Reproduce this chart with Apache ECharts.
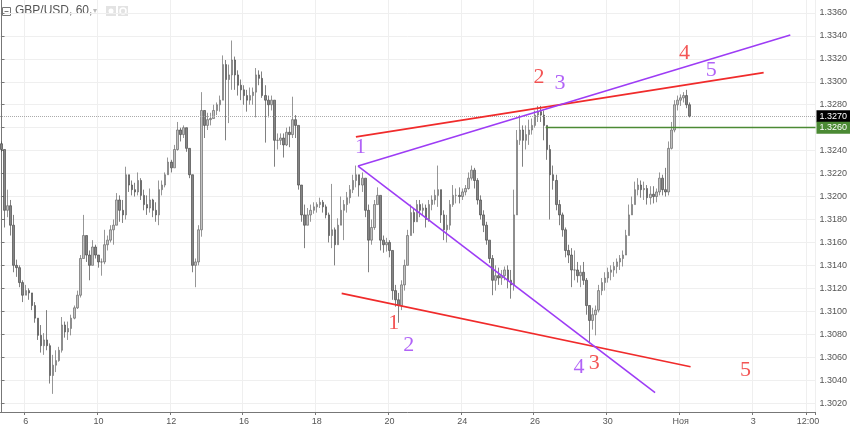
<!DOCTYPE html>
<html><head><meta charset="utf-8">
<script src="https://cdn.jsdelivr.net/npm/echarts@6/dist/echarts.min.js"></script>
<style>html,body{margin:0;padding:0;background:#fff;} #c{width:850px;height:430px;}</style>
</head><body><div id="c"></div>
<script>
// GBP/USD, 60 (2-hour bars)
const close = [
1.3241,1.3188,1.3192,1.3175,1.3140,1.3138,1.3125,1.3114,1.3118,1.3116,1.3105,1.3094,
1.3079,1.3070,1.3075,1.3070,1.3044,1.3053,1.3057,1.3066,1.3088,1.3082,1.3085,1.3094,
1.3103,1.3114,1.3146,1.3166,1.3149,1.3140,1.3156,1.3149,1.3143,1.3143,1.3158,1.3162,
1.3171,1.3175,1.3197,1.3188,1.3184,1.3219,1.3210,1.3206,1.3204,1.3214,1.3201,1.3193,
1.3190,1.3197,1.3188,1.3184,1.3206,1.3210,1.3219,1.3230,1.3225,1.3241,1.3258,1.3254,
1.3260,1.3242,1.3219,1.3140,1.3143,1.3171,1.3275,1.3262,1.3267,1.3268,1.3275,1.3280,
1.3284,1.3315,1.3302,1.3306,1.3319,1.3306,1.3297,1.3293,1.3288,1.3284,1.3288,1.3291,
1.3306,1.3303,1.3288,1.3284,1.3280,1.3284,1.3249,1.3249,1.3251,1.3245,1.3256,1.3254,
1.3267,1.3262,1.3210,1.3184,1.3175,1.3184,1.3188,1.3191,1.3193,1.3195,1.3191,1.3184,
1.3166,1.3171,1.3158,1.3175,1.3188,1.3193,1.3199,1.3206,1.3214,1.3219,1.3210,1.3216,
1.3188,1.3162,1.3173,1.3193,1.3201,1.3162,1.3158,1.3160,1.3153,1.3118,1.3110,1.3105,
1.3123,1.3140,1.3166,1.3186,1.3178,1.3193,1.3188,1.3190,1.3180,1.3193,1.3197,1.3201,
1.3206,1.3184,1.3171,1.3175,1.3193,1.3201,1.3201,1.3200,1.3204,1.3207,1.3216,1.3223,
1.3214,1.3197,1.3184,1.3175,1.3162,1.3146,1.3127,1.3131,1.3129,1.3131,1.3136,1.3127,
1.3123,1.3184,1.3249,1.3258,1.3249,1.3254,1.3258,1.3262,1.3271,1.3274,1.3271,1.3262,
1.3241,1.3219,1.3214,1.3193,1.3184,1.3171,1.3153,1.3149,1.3136,1.3136,1.3131,1.3134,
1.3127,1.3105,1.3092,1.3097,1.3101,1.3118,1.3125,1.3129,1.3134,1.3136,1.3139,1.3143,
1.3146,1.3149,1.3166,1.3184,1.3193,1.3206,1.3210,1.3206,1.3207,1.3199,1.3202,1.3200,
1.3204,1.3216,1.3206,1.3204,1.3242,1.3258,1.3280,1.3284,1.3286,1.3288,1.3280,1.3270];
const high = [
1.3248,1.3240,1.3206,1.3197,1.3184,1.3145,1.3140,1.3127,1.3123,1.3120,1.3116,1.3108,
1.3094,1.3088,1.3081,1.3101,1.3072,1.3062,1.3066,1.3069,1.3095,1.3091,1.3091,1.3097,
1.3105,1.3118,1.3149,1.3184,1.3166,1.3153,1.3162,1.3158,1.3149,1.3146,1.3171,1.3166,
1.3175,1.3180,1.3203,1.3201,1.3197,1.3226,1.3219,1.3214,1.3212,1.3221,1.3216,1.3206,
1.3201,1.3207,1.3198,1.3195,1.3214,1.3214,1.3221,1.3234,1.3232,1.3245,1.3265,1.3260,
1.3262,1.3260,1.3242,1.3219,1.3146,1.3175,1.3291,1.3275,1.3273,1.3273,1.3280,1.3282,
1.3288,1.3323,1.3319,1.3315,1.3336,1.3322,1.3310,1.3302,1.3297,1.3293,1.3295,1.3295,
1.3312,1.3310,1.3309,1.3297,1.3288,1.3288,1.3284,1.3255,1.3255,1.3255,1.3260,1.3261,
1.3287,1.3271,1.3262,1.3210,1.3193,1.3190,1.3193,1.3195,1.3195,1.3199,1.3197,1.3193,
1.3186,1.3211,1.3173,1.3181,1.3200,1.3197,1.3204,1.3210,1.3219,1.3227,1.3219,1.3221,
1.3216,1.3193,1.3180,1.3197,1.3208,1.3201,1.3166,1.3164,1.3162,1.3153,1.3123,1.3116,
1.3127,1.3145,1.3171,1.3193,1.3190,1.3197,1.3197,1.3194,1.3193,1.3197,1.3201,1.3206,
1.3227,1.3206,1.3188,1.3184,1.3197,1.3210,1.3207,1.3208,1.3207,1.3210,1.3221,1.3227,
1.3225,1.3216,1.3201,1.3188,1.3178,1.3162,1.3149,1.3140,1.3138,1.3136,1.3139,1.3140,
1.3136,1.3206,1.3258,1.3271,1.3262,1.3262,1.3267,1.3268,1.3275,1.3279,1.3279,1.3275,
1.3262,1.3245,1.3227,1.3219,1.3197,1.3186,1.3173,1.3158,1.3155,1.3153,1.3143,1.3140,
1.3143,1.3129,1.3105,1.3103,1.3105,1.3123,1.3129,1.3134,1.3138,1.3140,1.3143,1.3146,
1.3149,1.3153,1.3171,1.3193,1.3200,1.3213,1.3216,1.3214,1.3213,1.3210,1.3209,1.3209,
1.3207,1.3221,1.3219,1.3225,1.3248,1.3265,1.3284,1.3288,1.3289,1.3291,1.3293,1.3282];
const low = [
1.3239,1.3173,1.3182,1.3166,1.3134,1.3130,1.3121,1.3108,1.3114,1.3110,1.3101,1.3090,
1.3075,1.3064,1.3062,1.3066,1.3037,1.3028,1.3047,1.3056,1.3064,1.3077,1.3075,1.3079,
1.3093,1.3102,1.3112,1.3153,1.3143,1.3127,1.3140,1.3146,1.3138,1.3131,1.3141,1.3153,
1.3160,1.3158,1.3175,1.3178,1.3177,1.3180,1.3204,1.3201,1.3200,1.3201,1.3197,1.3188,
1.3184,1.3186,1.3182,1.3178,1.3175,1.3201,1.3208,1.3219,1.3221,1.3225,1.3240,1.3248,
1.3251,1.3239,1.3216,1.3134,1.3121,1.3140,1.3165,1.3251,1.3258,1.3262,1.3268,1.3271,
1.3274,1.3284,1.3249,1.3264,1.3293,1.3293,1.3288,1.3284,1.3280,1.3274,1.3280,1.3280,
1.3269,1.3297,1.3286,1.3247,1.3269,1.3275,1.3226,1.3241,1.3245,1.3234,1.3244,1.3243,
1.3251,1.3251,1.3206,1.3178,1.3155,1.3175,1.3178,1.3185,1.3186,1.3190,1.3186,1.3181,
1.3160,1.3155,1.3140,1.3158,1.3175,1.3162,1.3186,1.3194,1.3203,1.3208,1.3200,1.3204,
1.3182,1.3134,1.3158,1.3171,1.3193,1.3153,1.3151,1.3152,1.3147,1.3110,1.3104,1.3090,
1.3101,1.3118,1.3140,1.3166,1.3168,1.3178,1.3182,1.3184,1.3173,1.3178,1.3188,1.3193,
1.3191,1.3177,1.3162,1.3160,1.3171,1.3191,1.3194,1.3194,1.3197,1.3201,1.3206,1.3214,
1.3207,1.3193,1.3180,1.3169,1.3158,1.3142,1.3114,1.3118,1.3123,1.3123,1.3127,1.3120,
1.3111,1.3118,1.3184,1.3245,1.3226,1.3241,1.3245,1.3254,1.3260,1.3265,1.3265,1.3249,
1.3232,1.3180,1.3206,1.3188,1.3175,1.3165,1.3147,1.3142,1.3121,1.3127,1.3125,1.3121,
1.3123,1.3097,1.3072,1.3084,1.3079,1.3099,1.3114,1.3118,1.3125,1.3127,1.3130,1.3133,
1.3136,1.3139,1.3149,1.3166,1.3184,1.3193,1.3201,1.3199,1.3197,1.3193,1.3193,1.3194,
1.3195,1.3201,1.3201,1.3200,1.3201,1.3241,1.3256,1.3275,1.3279,1.3282,1.3277,1.3269];
const firstOpen = 1.3246;

const slotCount = 269;            // bars + empty future slots on the time axis
const xTickIndex = [8, 32, 56, 80, 104, 128, 152, 176, 200, 224, 248, 266];
const xTickText  = ['6', '10', '12', '16', '18', '20', '24', '26', '30', 'Ноя', '3', '12:00'];
const yTickValues = [1.302,1.304,1.306,1.308,1.310,1.312,1.314,1.316,1.318,1.320,1.322,1.324,1.326,1.328,1.330,1.332,1.334,1.336];
const lastPrice = 1.3270;
const levelPrice = 1.3260;
const levelStart = 179.5;

// trend lines: [bar index, price]
const redUpper    = [[116.9, 1.3252], [251.4, 1.3308]];
const redLower    = [[112.2, 1.31156], [227.3, 1.30516]];
const purpleUpper = [[117.6, 1.32266], [260.2, 1.33408]];
const purpleLower = [[117.6, 1.32266], [215.6, 1.3029]];

// wave labels: [bar index, price, text]
const redLabels = [[177.3, 1.33044, '2'], [225.3, 1.33248, '4'], [129.4, 1.30895, '1'], [195.5, 1.30546, '3'], [245.4, 1.30487, '5']];
const purpleLabels = [[118.4, 1.32434, '1'], [184.2, 1.32987, '3'], [234.1, 1.33103, '5'], [134.3, 1.30705, '2'], [190.5, 1.30516, '4']];

const RED = '#f02b2b', PURPLE = '#9d3cf5', GREEN = '#4b8a34';

const categories = Array.from({length: slotCount}, (_, i) => String(i));
const candles = close.map((c, i) => {
  const o = i === 0 ? firstOpen : close[i - 1];
  return [o, c, Math.min(low[i], o, c), Math.max(high[i], o, c)];
});
const tickMap = {};
xTickIndex.forEach((k, j) => { tickMap[k] = xTickText[j]; });
const isTick = (i) => tickMap[i] !== undefined;

const chart = echarts.init(document.getElementById('c'), null, {renderer: 'canvas'});
const axisFont = {fontFamily: 'Liberation Sans', fontSize: 9, color: '#555'};

function trend(data, color) {
  return {type: 'line', xAxisIndex: 1, yAxisIndex: 0, data: data, symbol: 'none',
    lineStyle: {color: color, width: 1.6}, silent: true, animation: false, z: 5};
}
function labels(data, color) {
  return {type: 'scatter', xAxisIndex: 1, yAxisIndex: 0, data: data, symbolSize: 0, silent: true, z: 6,
    label: {show: true, position: 'inside', formatter: p => p.data[2], color: color,
      fontFamily: 'Liberation Serif', fontSize: 22}};
}
function level(price, startIdx, color, type, boxColor) {
  return {
    silent: true, symbol: 'none', animation: false,
    lineStyle: {color: color, type: type, width: type === 'solid' ? 1.3 : 1},
    label: {position: 'end', formatter: price.toFixed(4), color: '#fff', backgroundColor: boxColor,
      padding: [2, 3, 1, 3], fontFamily: 'Liberation Sans', fontSize: 9, distance: 1},
    data: [[{coord: [startIdx, price]}, {coord: [slotCount - 0.5, price]}]]
  };
}

chart.setOption({
  animation: false,
  backgroundColor: '#fff',
  grid: {left: 0, right: 32, top: 0, bottom: 18, containLabel: false},
  xAxis: [{
    type: 'category', data: categories, boundaryGap: true,
    axisLine: {show: true, lineStyle: {color: '#777', width: 1}},
    axisTick: {show: true, interval: (i) => isTick(i), length: 3, lineStyle: {color: '#777'}},
    axisLabel: Object.assign({interval: (i) => isTick(i), formatter: (v, i) => tickMap[i] || '', margin: 5}, axisFont),
    splitLine: {show: true, interval: (i) => isTick(i), lineStyle: {color: '#efefef', width: 1}}
  }, {
    type: 'value', min: -0.5, max: slotCount - 0.5, show: false
  }],
  yAxis: [{
    type: 'value', position: 'right', min: 1.30122, max: 1.33713, scale: true,
    axisLine: {show: true, lineStyle: {color: '#777', width: 1}},
    axisTick: {show: true, customValues: yTickValues, length: 3, lineStyle: {color: '#777'}},
    axisLabel: Object.assign({customValues: yTickValues, formatter: v => v.toFixed(4), margin: 4}, axisFont),
    splitLine: {show: true, lineStyle: {color: '#efefef', width: 1}}
  }],
  graphic: [
    {type: 'rect', shape: {x: 2.5, y: 7.5, width: 8, height: 8}, style: {fill: 'none', stroke: '#777', lineWidth: 1}},
    {type: 'line', shape: {x1: 4.5, y1: 11.5, x2: 8.5, y2: 11.5}, style: {stroke: '#777', lineWidth: 1}},
    {type: 'text', left: 15, top: 5, style: {text: 'GBP/USD, 60,', fontFamily: 'Liberation Sans', fontSize: 12, fill: '#555'}},
    {type: 'text', left: 93, top: 7, style: {text: '▾', fontFamily: 'DejaVu Sans', fontSize: 8, fill: '#bbb'}},
    {type: 'rect', shape: {x: 106, y: 6, width: 10, height: 10}, style: {fill: '#e3e3e3'}},
    {type: 'circle', shape: {cx: 111, cy: 11, r: 2.5}, style: {fill: '#fff'}},
    {type: 'rect', shape: {x: 118, y: 6, width: 10, height: 10}, style: {fill: '#e3e3e3'}},
    {type: 'circle', shape: {cx: 123, cy: 11, r: 3}, style: {fill: 'none', stroke: '#fff', lineWidth: 1.5}}
  ],
  series: [
    {
      type: 'candlestick', xAxisIndex: 0, yAxisIndex: 0, data: candles, barWidth: 2,
      itemStyle: {color: '#c2c2c2', color0: '#858585', borderColor: '#6a6a6a', borderColor0: '#4a4a4a', borderWidth: 0.7}
    },
    {
      type: 'line', xAxisIndex: 1, yAxisIndex: 0, data: [], silent: true, z: 3,
      markLine: level(lastPrice, -0.5, '#aaa', 'dotted', '#000')
    },
    {
      type: 'line', xAxisIndex: 1, yAxisIndex: 0, data: [], silent: true, z: 3,
      markLine: level(levelPrice, levelStart, GREEN, 'solid', GREEN)
    },
    trend(redUpper, RED), trend(redLower, RED),
    trend(purpleUpper, PURPLE), trend(purpleLower, PURPLE),
    labels(redLabels, RED), labels(purpleLabels, PURPLE)
  ]
});
</script>
</body></html>
